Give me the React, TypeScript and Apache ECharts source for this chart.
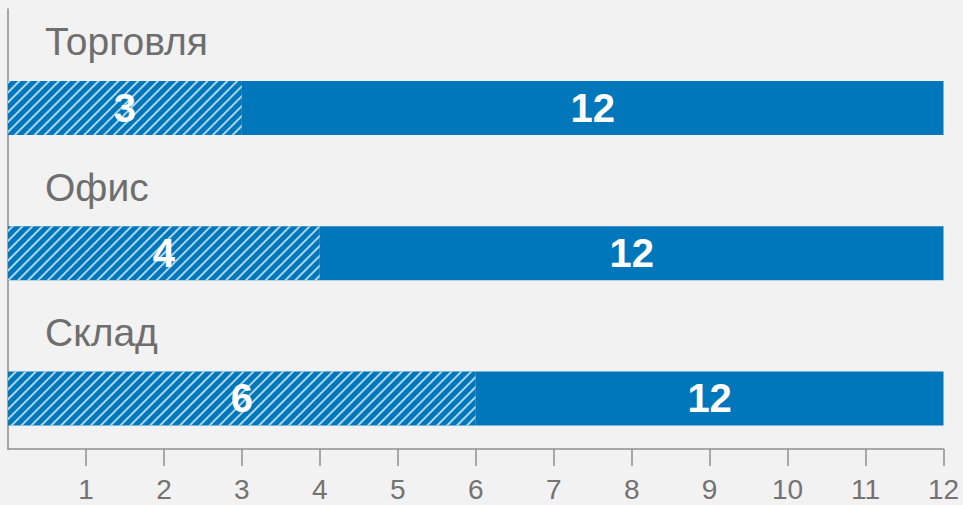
import React, { useEffect, useRef } from "react";
import * as echarts from "echarts";

const categories = ["Торговля", "Офис", "Склад"];
const hatchedValues = [3, 4, 6];
const totalValues = [12, 12, 12];
const axisMin = 0;
const axisMax = 12;
const axisInterval = 1;

const FONT = "'Liberation Sans', Arial, sans-serif";
const BLUE = "#0077ba";

export default function App() {
  const ref = useRef<HTMLDivElement>(null);
  useEffect(() => {
    document.body.style.margin = "0";
    const chart = echarts.init(ref.current!, null, { renderer: "svg" });
    const remainder = totalValues.map((t, i) => t - hatchedValues[i]);
    chart.setOption({
      animation: false,
      backgroundColor: "#f2f2f2",
      grid: [
        { left: 8, right: 19.5, top: 35.3, bottom: 34 },
        { left: 8, right: 19.5, top: 9, bottom: 56 },
      ],
      xAxis: [
        { gridIndex: 0, type: "value", min: axisMin, max: axisMax, interval: axisInterval, show: false },
        {
          gridIndex: 1,
          type: "value",
          min: axisMin,
          max: axisMax,
          interval: axisInterval,
          axisLine: { show: true, lineStyle: { color: "#8e8e8e", width: 1.5 } },
          axisTick: { show: true, length: 17, lineStyle: { color: "#8e8e8e", width: 1.5 } },
          splitLine: { show: false },
          axisLabel: {
            showMinLabel: false,
            margin: 26,
            color: "#737373",
            fontSize: 28,
            fontFamily: FONT,
          },
        },
      ],
      yAxis: [
        {
          gridIndex: 0,
          type: "category",
          inverse: true,
          data: categories,
          z: 10,
          axisLine: { show: false },
          axisTick: { show: false },
          splitLine: { show: false },
          axisLabel: {
            inside: true,
            margin: 37,
            formatter: "{a|{value}}",
            rich: {
              a: {
                color: "#6e6e6e",
                fontSize: 39,
                fontFamily: FONT,
                padding: [0, 0, 132, 0],
              },
            },
          },
        },
        {
          gridIndex: 1,
          type: "value",
          min: 0,
          max: 1,
          axisLine: { show: true, lineStyle: { color: "#8e8e8e", width: 1.5 } },
          axisTick: { show: false },
          axisLabel: { show: false },
          splitLine: { show: false },
        },
      ],
      series: [
        {
          type: "bar",
          xAxisIndex: 0,
          yAxisIndex: 0,
          stack: "a",
          barWidth: 54,
          data: hatchedValues,
          itemStyle: {
            color: BLUE,
            decal: {
              symbol: "rect",
              symbolSize: 1,
              dashArrayX: [1, 0],
              dashArrayY: [2, 4.8],
              rotation: -Math.PI / 4,
              color: "rgba(190,222,244,0.9)",
            },
          },
          label: {
            show: true,
            position: "inside",
            color: "#fff",
            fontSize: 40,
            fontWeight: "bold",
            fontFamily: FONT,
          },
        },
        {
          type: "bar",
          xAxisIndex: 0,
          yAxisIndex: 0,
          stack: "a",
          barWidth: 54,
          data: remainder,
          itemStyle: { color: BLUE },
          label: {
            show: true,
            position: "inside",
            color: "#fff",
            fontSize: 40,
            fontWeight: "bold",
            fontFamily: FONT,
            formatter: (p: any) => String(totalValues[p.dataIndex]),
          },
        },
      ],
    });
    return () => chart.dispose();
  }, []);
  return (
    <div
      ref={ref}
      style={{ position: "absolute", left: 0, top: 0, width: 963, height: 505, background: "#f2f2f2" }}
    />
  );
}
